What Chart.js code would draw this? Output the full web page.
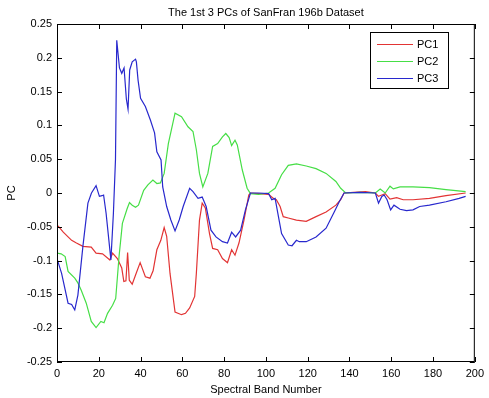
<!DOCTYPE html>
<html>
<head>
<meta charset="utf-8">
<title>The 1st 3 PCs of SanFran 196b Dataset</title>
<script src="https://cdn.jsdelivr.net/npm/chart.js@4.4.1/dist/chart.umd.min.js"></script>
<style>
  html, body { margin: 0; padding: 0; background: #fff; }
  #wrap { width: 489px; height: 398px; }
</style>
</head>
<body>
<div id="wrap"><canvas id="pcChart" width="489" height="398"></canvas></div>
<script>
// values (band number, PC value)
const pc1Bands = [0, 0.6, 3, 5.3, 7, 9.3, 12.4, 16.4, 18.7, 21.8, 25.3, 26.6, 28.9, 31, 32, 33, 33.8, 34.6, 36, 38, 39.8, 42.3, 44.5, 46, 47.8, 49.7, 51.3, 52.5, 54.1, 56.5, 59.6, 61.5, 63.5, 65.9, 66.7, 68.2, 69.5, 71, 73, 74.5, 76.9, 79.2, 81.6, 83.6, 85.2, 87.1, 89.5, 91.8, 92.6, 96.5, 101.3, 103.6, 105, 106.8, 108.3, 110.7, 114.6, 119.3, 124, 128.8, 133.5, 135.8, 137.4, 142, 147.6, 152.4, 153.9, 155.5, 157.1, 159.4, 162.6, 165.7, 170.4, 178.3, 186.2, 195.6];
const pc1Values = [-0.048, -0.049, -0.058, -0.065, -0.07, -0.074, -0.079, -0.08, -0.089, -0.09, -0.099, -0.089, -0.097, -0.111, -0.131, -0.13, -0.088, -0.129, -0.135, -0.118, -0.103, -0.124, -0.126, -0.115, -0.084, -0.07, -0.051, -0.064, -0.119, -0.176, -0.18, -0.178, -0.17, -0.153, -0.119, -0.04, -0.015, -0.022, -0.06, -0.082, -0.084, -0.097, -0.103, -0.084, -0.092, -0.074, -0.04, -0.003, 0, -0.001, -0.002, -0.008, -0.01, -0.02, -0.035, -0.037, -0.04, -0.042, -0.035, -0.028, -0.018, -0.01, 0, 0.001, 0.002, 0, -0.005, -0.003, -0.001, -0.009, -0.007, -0.01, -0.01, -0.008, -0.004, 0];

const pc2Bands = [0, 2, 3.9, 5.3, 8.5, 10, 11.6, 14, 16.4, 18.7, 21, 22.5, 24.2, 26.6, 28.1, 29.7, 31.3, 33.6, 34.7, 36, 37.6, 39, 41.5, 43.5, 45.9, 47.8, 49.5, 51.3, 53.3, 56.5, 59.6, 62.7, 65.1, 66.7, 68.2, 69.8, 72.2, 74.5, 76.9, 79.2, 80.8, 82.4, 83.6, 85.2, 86.3, 88.7, 91, 92.6, 96.5, 101.3, 104.4, 107.5, 110.7, 114.6, 119.3, 124, 128.8, 133.5, 135.8, 138.2, 145, 152.4, 154.7, 157.1, 159.4, 161, 164.2, 170.4, 178.3, 186.2, 195.6];
const pc2Values = [-0.089, -0.09, -0.094, -0.116, -0.126, -0.133, -0.144, -0.163, -0.19, -0.199, -0.19, -0.192, -0.178, -0.166, -0.156, -0.094, -0.045, -0.023, -0.014, -0.018, -0.021, -0.018, 0.004, 0.012, 0.019, 0.014, 0.015, 0.029, 0.073, 0.118, 0.113, 0.098, 0.091, 0.064, 0.029, 0.009, 0.029, 0.069, 0.073, 0.083, 0.088, 0.082, 0.07, 0.078, 0.071, 0.034, 0.007, -0.001, -0.002, 0, 0.007, 0.027, 0.041, 0.043, 0.04, 0.036, 0.029, 0.017, 0.007, 0, 0.001, 0, 0.006, 0, 0.01, 0.006, 0.009, 0.009, 0.008, 0.005, 0.002];

const pc3Bands = [0, 2.2, 5.3, 7, 8.5, 10, 12.4, 14.8, 16.5, 18.7, 20.3, 21.5, 22.3, 23.5, 25.8, 27, 28, 28.6, 29.9, 31, 32.1, 33.2, 34, 34.8, 36, 37.6, 38, 38.8, 40, 42.3, 44.7, 46.7, 47.8, 49.8, 50.6, 52.5, 54.5, 56.5, 58.5, 60.4, 63.5, 65.1, 67.5, 69.5, 71.4, 73.7, 76.1, 79.2, 81.6, 83.6, 85.5, 87.9, 90.2, 92.6, 96.5, 101.3, 102.8, 104.4, 106, 107.5, 110.7, 112.5, 114.6, 116, 119.3, 124, 128.8, 132.7, 135.1, 137.4, 145, 152.4, 153.9, 155.5, 156.6, 158, 159.7, 161.3, 164.2, 167.3, 170.4, 173.6, 178.3, 186.2, 192.5, 195.6];
const pc3Values = [-0.097, -0.119, -0.163, -0.165, -0.173, -0.151, -0.079, -0.015, 0, 0.011, -0.005, -0.004, -0.003, -0.03, -0.099, -0.03, 0.05, 0.226, 0.185, 0.177, 0.185, 0.139, 0.124, 0.182, 0.194, 0.198, 0.194, 0.167, 0.14, 0.128, 0.108, 0.089, 0.061, 0.049, 0.009, -0.02, -0.04, -0.056, -0.04, -0.02, 0.007, 0.002, -0.008, -0.006, -0.02, -0.055, -0.065, -0.072, -0.074, -0.058, -0.065, -0.055, -0.025, 0, 0, -0.001, -0.01, -0.008, -0.035, -0.06, -0.077, -0.078, -0.07, -0.072, -0.072, -0.065, -0.052, -0.028, -0.013, 0, 0.001, 0, -0.015, -0.005, -0.003, -0.01, -0.025, -0.018, -0.024, -0.026, -0.025, -0.02, -0.018, -0.013, -0.008, -0.005];

const xTicks = [0, 20, 40, 60, 80, 100, 120, 140, 160, 180, 200];
const yTicks = [-0.25, -0.2, -0.15, -0.1, -0.05, 0, 0.05, 0.1, 0.15, 0.2, 0.25];

const chartTitle = 'The 1st 3 PCs of SanFran 196b Dataset';
const FONT = "'Liberation Sans', Arial, Helvetica, sans-serif";

Chart.defaults.font.family = FONT;
Chart.defaults.font.size = 11;
Chart.defaults.color = '#000';

const toPoints = (xs, ys) => xs.map((x, i) => ({ x, y: ys[i] }));

// MATLAB style box: frame, inward ticks on all sides, title and legend
const matlabBox = {
  id: 'matlabBox',
  afterDraw(chart) {
    const { ctx, chartArea: a, scales: { x, y } } = chart;
    ctx.save();
    ctx.strokeStyle = '#000';
    ctx.lineWidth = 1;
    ctx.strokeRect(a.left + 0.5, a.top + 0.5, a.right - a.left - 1, a.bottom - a.top - 1);

    ctx.beginPath();
    xTicks.forEach(v => {
      const px = Math.round(x.getPixelForValue(v)) + 0.5;
      ctx.moveTo(px, a.bottom); ctx.lineTo(px, a.bottom - 5);
      ctx.moveTo(px, a.top); ctx.lineTo(px, a.top + 5);
    });
    yTicks.forEach(v => {
      const py = Math.round(y.getPixelForValue(v)) + 0.5;
      ctx.moveTo(a.left, py); ctx.lineTo(a.left + 5, py);
      ctx.moveTo(a.right, py); ctx.lineTo(a.right - 5, py);
    });
    ctx.stroke();

    // title
    ctx.fillStyle = '#000';
    ctx.font = '11px ' + FONT;
    ctx.textAlign = 'center';
    ctx.textBaseline = 'middle';
    ctx.fillText(chartTitle, (a.left + a.right) / 2, 13);

    // legend
    const lx = 370, ly = 32, lw = 78, lh = 56;
    ctx.fillStyle = '#fff';
    ctx.fillRect(lx, ly, lw, lh);
    ctx.strokeRect(lx + 0.5, ly + 0.5, lw, lh);
    ctx.textAlign = 'left';
    chart.data.datasets.forEach((ds, i) => {
      const ey = ly + 12.5 + i * 17;
      ctx.strokeStyle = ds.borderColor;
      ctx.beginPath();
      ctx.moveTo(lx + 7, ey); ctx.lineTo(lx + 43, ey);
      ctx.stroke();
      ctx.fillStyle = '#000';
      ctx.fillText(ds.label, lx + 47, ey);
    });
    ctx.restore();
  }
};

new Chart(document.getElementById('pcChart'), {
  type: 'line',
  data: {
    datasets: [
      { label: 'PC1', data: toPoints(pc1Bands, pc1Values), borderColor: 'rgb(226,52,52)', order: 3 },
      { label: 'PC2', data: toPoints(pc2Bands, pc2Values), borderColor: 'rgb(70,222,70)', order: 2 },
      { label: 'PC3', data: toPoints(pc3Bands, pc3Values), borderColor: 'rgb(40,40,205)', order: 1 }
    ]
  },
  options: {
    responsive: false,
    animation: false,
    layout: { padding: { top: 24, right: 8, bottom: 0, left: 0 } },
    elements: {
      line: { borderWidth: 1.2, tension: 0, fill: false },
      point: { radius: 0, hoverRadius: 0 }
    },
    plugins: {
      legend: { display: false },
      title: { display: false },
      tooltip: { enabled: false }
    },
    scales: {
      x: {
        type: 'linear',
        min: 0, max: 200,
        afterBuildTicks: s => { s.ticks = xTicks.map(value => ({ value })); },
        afterFit: s => { s.height = 36; },
        grid: { display: false, drawTicks: false },
        border: { display: false },
        ticks: { padding: 5, maxRotation: 0, callback: v => String(v) },
        title: { display: true, text: 'Spectral Band Number', padding: { top: 0, bottom: 1 } }
      },
      y: {
        min: -0.25, max: 0.25,
        afterBuildTicks: s => { s.ticks = yTicks.map(value => ({ value })); },
        afterFit: s => { s.width = 57; },
        grid: { display: false, drawTicks: false },
        border: { display: false },
        ticks: { padding: 5, callback: v => String(Number(v.toFixed(2))) },
        title: { display: true, text: 'PC', padding: { top: 5, bottom: 0 } }
      }
    }
  },
  plugins: [matlabBox]
});
</script>
</body>
</html>
